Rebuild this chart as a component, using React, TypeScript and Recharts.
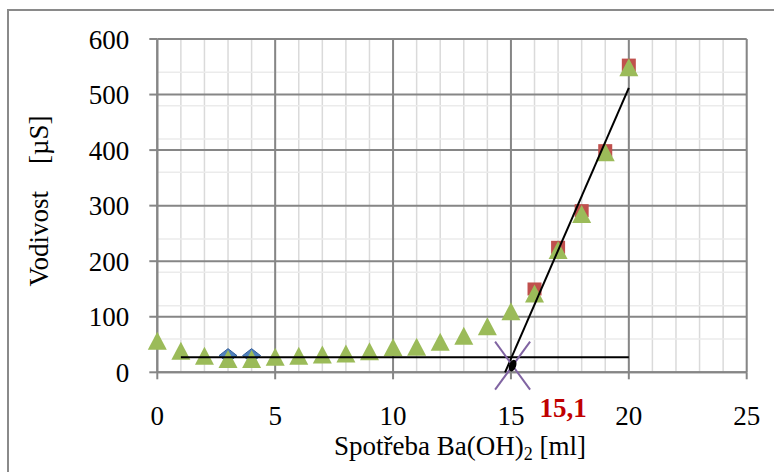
import React from 'react';
import { ComposedChart, Scatter, XAxis, YAxis, CartesianGrid } from 'recharts';

// Titration data: volume of Ba(OH)2 [ml] vs. conductivity [µS]
const volumes = [0, 1, 2, 3, 4, 5, 6, 7, 8, 9, 10, 11, 12, 13, 14, 15, 16, 17, 18, 19, 20];
const conductivity = [57, 39, 30, 24, 24, 28, 30, 32, 34, 38, 45, 46, 55, 66, 83, 110, 142, 220, 285, 396, 549];

// Points past the equivalence point used for the rising fit
const riseVolumes = [16, 17, 18, 19, 20];
const riseConductivity = [150, 225, 291, 399, 553];

// Early readings of the first run
const earlyVolumes = [3, 4];
const earlyConductivity = [30, 30];

// Fitted lines
const baselineFitX = [1, 20];
const baselineFitY = [27, 27];
const riseFitX = [14.75, 20];
const riseFitY = [0, 512];

// Intersection (equivalence point)
const equivalenceX = [15.07];
const equivalenceY = [12];
const equivalenceLabel = '15,1';

// Axes and grid
const xTicks = [0, 5, 10, 15, 20, 25];
const yTicks = [0, 100, 200, 300, 400, 500, 600];
const xMinor = [0, 1, 2, 3, 4, 5, 6, 7, 8, 9, 10, 11, 12, 13, 14, 15, 16, 17, 18, 19, 20, 21, 22, 23, 24, 25];
const yMinor = [0, 20, 40, 60, 80, 100, 120, 140, 160, 180, 200, 220, 240, 260, 280, 300, 320, 340, 360, 380, 400, 420, 440, 460, 480, 500, 520, 540, 560, 580, 600];

const toPoints = (xs: number[], ys: number[]) => xs.map((x, i) => ({ x, y: ys[i] }));

const mainData = toPoints(volumes, conductivity);
const riseData = toPoints(riseVolumes, riseConductivity);
const earlyData = toPoints(earlyVolumes, earlyConductivity);
const baselineFit = toPoints(baselineFitX, baselineFitY);
const riseFit = toPoints(riseFitX, riseFitY);
const equivalence = toPoints(equivalenceX, equivalenceY);

const FONT = '"Liberation Serif", "Times New Roman", serif';
const AXIS_GRAY = '#868686';

const Triangle = (p: any) => (
  <path
    d={`M${p.cx},${p.cy - 9} L${p.cx + 9.5},${p.cy + 9} L${p.cx - 9.5},${p.cy + 9} Z`}
    fill="#9BBB59"
  />
);

const Square = (p: any) => (
  <rect x={p.cx - 7} y={p.cy - 6.5} width={14} height={13} fill="#C0504D" />
);

const Diamond = (p: any) => (
  <path
    d={`M${p.cx},${p.cy - 7} L${p.cx + 9},${p.cy} L${p.cx},${p.cy + 7} L${p.cx - 9},${p.cy} Z`}
    fill="#4F81BD"
    stroke="#2F5C9A"
    strokeWidth={1}
  />
);

const CrossWithDot = (p: any) => (
  <g>
    <line x1={p.cx - 17.5} y1={p.cy - 24} x2={p.cx + 17.5} y2={p.cy + 24} stroke="#8064A2" strokeWidth={2} />
    <line x1={p.cx + 17.5} y1={p.cy - 24} x2={p.cx - 17.5} y2={p.cy + 24} stroke="#8064A2" strokeWidth={2} />
    <ellipse cx={p.cx} cy={p.cy} rx={3.5} ry={6} fill="#000" transform={`rotate(20 ${p.cx} ${p.cy})`} />
  </g>
);

const NoMarker = () => <g />;

export default function App() {
  return (
    <div style={{ position: 'absolute', left: 0, top: 0, width: 774, height: 472, background: '#fff', overflow: 'hidden' }}>
      <div
        style={{
          position: 'absolute',
          left: 7,
          top: 9,
          width: 800,
          height: 500,
          borderLeft: '2px solid #8a8a8a',
          borderTop: '2px solid #8a8a8a',
        }}
      />
      <div style={{ position: 'absolute', left: 0, top: 0 }}>
        <ComposedChart
          width={774}
          height={472}
          margin={{ top: 39, right: 27.3, left: 97.3, bottom: 59.7 }}
        >
          <CartesianGrid horizontal={false} verticalValues={xMinor} stroke="#dadada" strokeWidth={1.5} />
          <CartesianGrid vertical={false} horizontalValues={yMinor} stroke="#ebebeb" strokeWidth={1.5} />
          <CartesianGrid horizontalValues={yTicks} verticalValues={xTicks} stroke={AXIS_GRAY} strokeWidth={2} />
          <XAxis
            type="number"
            dataKey="x"
            domain={[0, 25]}
            ticks={xTicks}
            height={40}
            tickSize={7}
            tickMargin={27}
            axisLine={{ stroke: AXIS_GRAY, strokeWidth: 2 }}
            tickLine={{ stroke: AXIS_GRAY, strokeWidth: 2 }}
            tick={{ fontFamily: FONT, fontSize: 27, fill: '#000' }}
          />
          <YAxis
            type="number"
            dataKey="y"
            domain={[0, 600]}
            ticks={yTicks}
            width={60}
            tickSize={8}
            tickMargin={20}
            axisLine={{ stroke: AXIS_GRAY, strokeWidth: 2 }}
            tickLine={{ stroke: AXIS_GRAY, strokeWidth: 2 }}
            tick={{ fontFamily: FONT, fontSize: 27, fill: '#000' }}
          />
          <Scatter data={earlyData} shape={Diamond} isAnimationActive={false} />
          <Scatter data={riseData} shape={Square} isAnimationActive={false} />
          <Scatter data={mainData} shape={Triangle} isAnimationActive={false} />
          <Scatter data={baselineFit} shape={NoMarker} line={{ stroke: '#000', strokeWidth: 2 }} isAnimationActive={false} />
          <Scatter data={riseFit} shape={NoMarker} line={{ stroke: '#000', strokeWidth: 2 }} isAnimationActive={false} />
          <Scatter data={equivalence} shape={CrossWithDot} isAnimationActive={false} />
        </ComposedChart>
      </div>
      <div
        style={{
          position: 'absolute',
          left: 563 - 40,
          top: 393,
          width: 80,
          textAlign: 'center',
          fontFamily: FONT,
          fontWeight: 'bold',
          fontSize: 27,
          lineHeight: '30px',
          color: '#C00000',
        }}
      >
        {equivalenceLabel}
      </div>
      <div
        style={{
          position: 'absolute',
          left: 260,
          width: 400,
          top: 431,
          textAlign: 'center',
          fontFamily: FONT,
          fontSize: 27,
          lineHeight: '30px',
          color: '#000',
          whiteSpace: 'pre',
        }}
      >
        Spotřeba Ba(OH)<sub style={{ fontSize: 18, verticalAlign: 'baseline', position: 'relative', top: 5 }}>2</sub> [ml]
      </div>
      <div
        style={{
          position: 'absolute',
          left: 39 - 150,
          top: 201 - 15,
          width: 300,
          height: 30,
          textAlign: 'center',
          fontFamily: FONT,
          fontSize: 27,
          lineHeight: '30px',
          color: '#000',
          whiteSpace: 'pre',
          transform: 'rotate(-90deg)',
        }}
      >
        {'Vodivost    [µS]'}
      </div>
    </div>
  );
}
